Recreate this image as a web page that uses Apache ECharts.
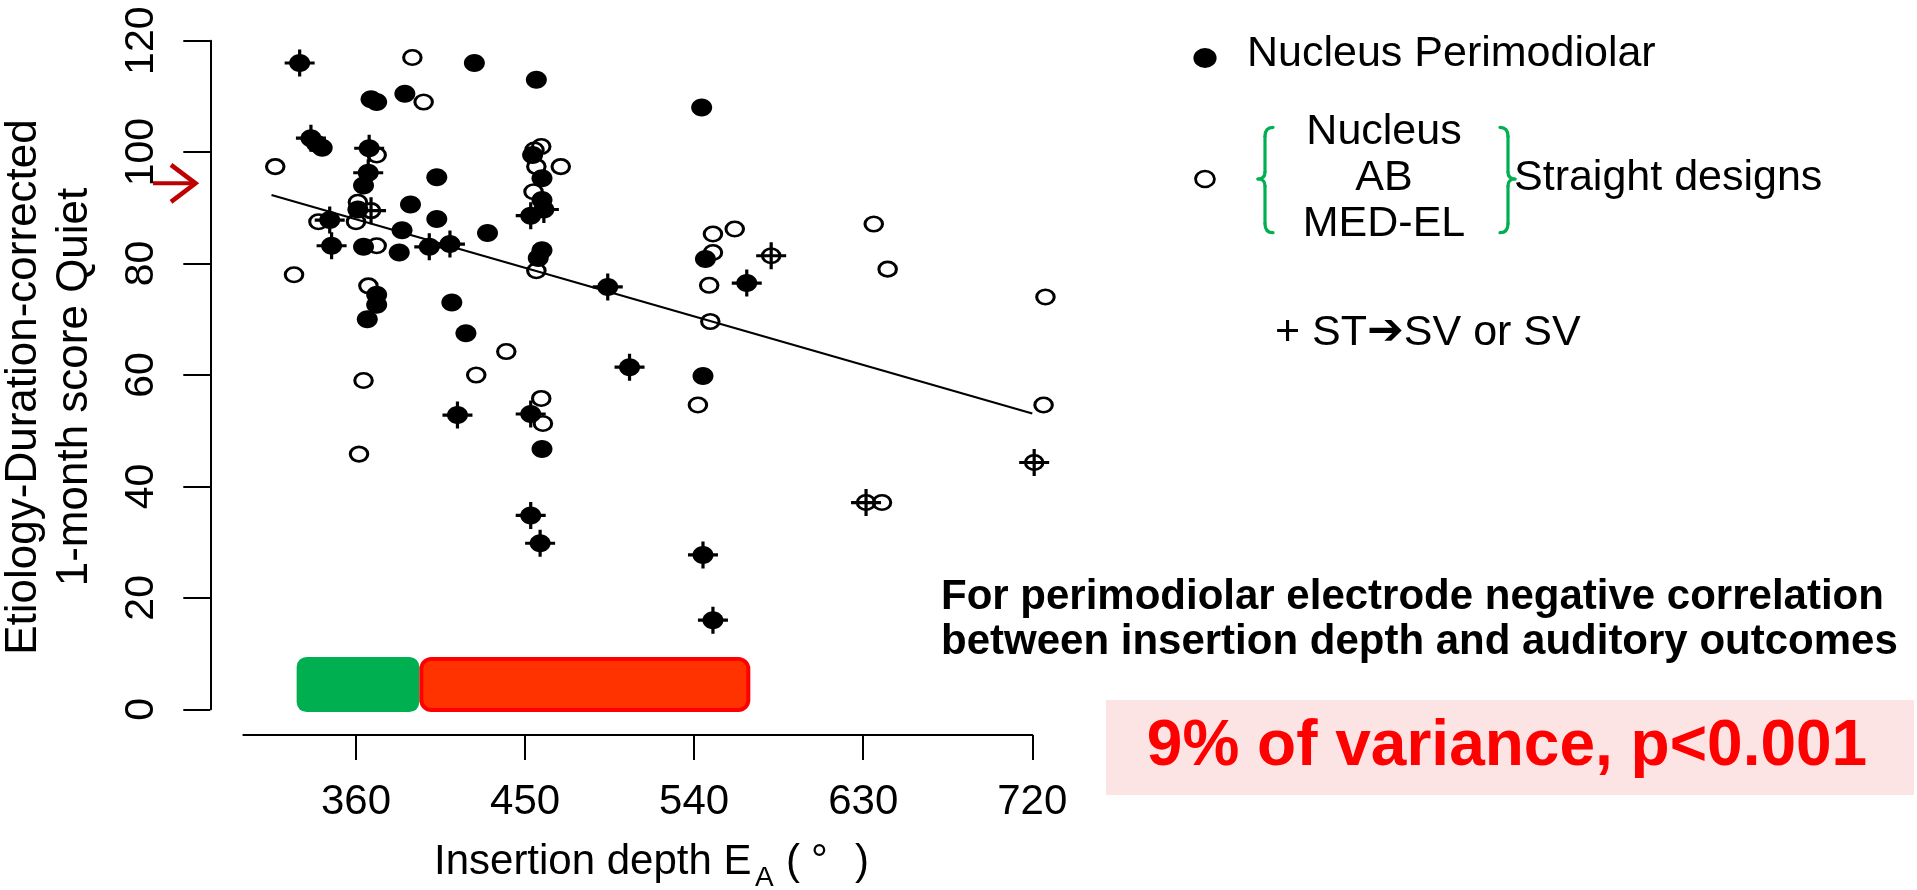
<!DOCTYPE html>
<html>
<head>
<meta charset="utf-8">
<script src="https://cdn.jsdelivr.net/npm/echarts@6/dist/echarts.min.js"></script>
<style>
  html, body { margin: 0; padding: 0; background: #ffffff; }
  #chart { width: 1917px; height: 890px; }
</style>
</head>
<body>
<div id="chart"></div>
<script>
// Axis ticks
const xTicks = [360, 450, 540, 630, 720];
const yTicks = [0, 20, 40, 60, 80, 100, 120];

// [insertion depth (deg), corrected 1-month score]
// Nucleus Perimodiolar, scala tympani
const perimodiolar = [
  [423, 116], [456, 113], [368, 109.5], [371, 109], [386, 110.5],
  [339, 101.5], [342, 100.8], [403, 95.5], [364, 94], [361, 89.7],
  [389, 90.6], [403, 88], [384.5, 86], [383, 82], [430, 85.5],
  [364, 83], [371, 74.4], [371, 72.6], [366, 70], [411, 73],
  [418.5, 67.5], [454, 99.5], [459, 95.3], [459, 91.4], [459, 82.4],
  [457, 81], [459, 46.7], [544, 108], [546, 80.8], [544.7, 59.8]
];
// Nucleus Perimodiolar, ST->SV or SV
const perimodiolarSV = [
  [330, 116], [336, 102.5], [367, 100.7], [366.5, 96.3], [346, 87.8],
  [399, 83], [410, 83.5], [347, 83.2], [494, 75.8], [505.6, 61.4],
  [414, 52.8], [453, 53], [453, 34.8], [458, 29.8], [453, 88.6],
  [460, 89.7], [568, 76.5], [544.7, 27.7], [550, 16]
];
// Straight designs (Nucleus, AB, MED-EL), scala tympani
const straight = [
  [390, 117], [396, 109], [371, 99.5], [317, 97.4], [361, 91],
  [360, 87.5], [340, 87.5], [371, 83.2], [327, 78], [366.6, 76],
  [440, 64.2], [424, 60], [364, 59], [361.6, 45.8], [458.6, 101],
  [455, 100.4], [456, 97.4], [469, 97.4], [454.5, 92.9], [456, 78.7],
  [458.6, 55.8], [459.5, 51.3], [550, 85.3], [561.6, 86.2], [550, 82],
  [635.6, 87.1], [643, 79], [548, 76.1], [548.6, 69.6], [542, 54.6],
  [727, 74], [726, 54.6], [640, 37.1]
];
// Straight designs, ST->SV or SV
const straightSV = [
  [368, 89.5], [581, 81.4], [721, 44.3], [631.5, 37.1]
];

// Regression line end points
const fitLine = [[315, 92.3], [720, 53.1]];
// Score marked by the arrow on the y axis
const referenceScore = 94.4;
// Depth ranges shown as bands along the bottom, and their score extent
const depthZones = [[328.4, 393.7], [393.7, 569.9]];
const zoneBand = [-0.5, 9.4];

const FONT = "'Liberation Sans', Arial, Helvetica, sans-serif";
const zoneStyles = [
  { fill: '#00B050', stroke: null, lineWidth: 0 },
  { fill: '#FF3300', stroke: '#FF0000', lineWidth: 4 }
];
const ellipsePath = 'path://M10,0C15.52,0 20,4.48 20,10C20,15.52 15.52,20 10,20C4.48,20 0,15.52 0,10C0,4.48 4.48,0 10,0Z';
const plusPath = 'path://M0,11.9h30v3.2h-30zM13.4,0h3.2v27h-3.2z';

const chart = echarts.init(document.getElementById('chart'), null, { renderer: 'canvas' });

const filledStyle = { color: '#000000', opacity: 1 };
const openStyle = { color: 'rgba(0,0,0,0)', borderColor: '#000000', borderWidth: 2.8, opacity: 1 };

chart.setOption({
  animation: false,
  backgroundColor: '#ffffff',
  grid: { left: 243.3, right: 884.7, top: 40.7, bottom: 180.7, containLabel: false, outerBoundsMode: 'none' },
  xAxis: {
    type: 'value', min: 300, max: 720, position: 'bottom', offset: 25.7,
    axisLine: { show: true, onZero: false, lineStyle: { color: '#000', width: 2 } },
    axisTick: { show: true, customValues: xTicks, length: 25, lineStyle: { color: '#000', width: 2 } },
    axisLabel: { customValues: xTicks, margin: 46, fontSize: 42, color: '#000', fontFamily: FONT },
    splitLine: { show: false }
  },
  yAxis: {
    type: 'value', min: yTicks[0], max: yTicks[yTicks.length - 1], interval: 20,
    position: 'left', offset: 33,
    axisLine: { show: true, onZero: false, lineStyle: { color: '#000', width: 2 } },
    axisTick: { show: true, length: 27, lineStyle: { color: '#000', width: 2 } },
    axisLabel: { rotate: 90, margin: 48, fontSize: 41, color: '#000', fontFamily: FONT },
    splitLine: { show: false }
  },
  series: [
    {
      type: 'custom', silent: true, clip: false, z: 1,
      data: depthZones.map((z, i) => [z[0], z[1], i]),
      renderItem: function (params, api) {
        const p0 = api.coord([api.value(0), zoneBand[1]]);
        const p1 = api.coord([api.value(1), zoneBand[0]]);
        const st = zoneStyles[api.value(2)];
        const inset = st.lineWidth / 2;
        return {
          type: 'rect',
          shape: { x: p0[0] + inset, y: p0[1] + inset, width: p1[0] - p0[0] - 2 * inset, height: p1[1] - p0[1] - 2 * inset, r: 10 },
          style: { fill: st.fill, stroke: st.stroke, lineWidth: st.lineWidth }
        };
      }
    },
    {
      type: 'line', data: fitLine, symbol: 'none', silent: true, z: 2,
      lineStyle: { color: '#000', width: 2.2 }
    },
    {
      type: 'scatter', data: perimodiolar, symbol: ellipsePath, symbolSize: [21, 18],
      itemStyle: filledStyle, silent: true, clip: false, z: 3
    },
    {
      type: 'scatter', data: perimodiolarSV, symbol: ellipsePath, symbolSize: [21, 18],
      itemStyle: filledStyle, silent: true, clip: false, z: 3
    },
    {
      type: 'scatter', data: straight, symbol: ellipsePath, symbolSize: [17.5, 14.5],
      itemStyle: openStyle, silent: true, clip: false, z: 4
    },
    {
      type: 'scatter', data: straightSV, symbol: ellipsePath, symbolSize: [17.5, 14.5],
      itemStyle: openStyle, silent: true, clip: false, z: 4
    },
    {
      // "+" marks for ST->SV or SV insertions
      type: 'scatter', data: perimodiolarSV.concat(straightSV), symbol: plusPath, symbolSize: [30, 27],
      itemStyle: { color: '#000', opacity: 1 }, silent: true, clip: false, z: 5
    }
  ]
});

const yRef = chart.convertToPixel({ yAxisIndex: 0 }, referenceScore);

function txt(x, y, text, font, opts) {
  opts = opts || {};
  const align = opts.align || 'left';
  const el = {
    type: 'text', x: x, y: y, rotation: opts.rotation || 0, silent: true, z: 10,
    style: {
      text: text, font: font, fill: opts.fill || '#000',
      align: align, textAlign: align,
      verticalAlign: 'middle', textVerticalAlign: 'middle'
    }
  };
  if (opts.rich) el.style.rich = opts.rich;
  return el;
}

const braceColor = '#00B050';
function brace(xLine, xEnd, xTip, yTop, yMid, yBot) {
  const s = { stroke: braceColor, lineWidth: 3.2, fill: null, lineCap: 'round' };
  return [
    { type: 'bezierCurve', shape: { x1: xEnd, y1: yTop, cpx1: xLine, cpy1: yTop, x2: xLine, y2: yTop + 9 }, style: s, silent: true },
    { type: 'line', shape: { x1: xLine, y1: yTop + 9, x2: xLine, y2: yMid - 7 }, style: s, silent: true },
    { type: 'bezierCurve', shape: { x1: xLine, y1: yMid - 7, cpx1: xLine, cpy1: yMid, x2: xTip, y2: yMid }, style: s, silent: true },
    { type: 'bezierCurve', shape: { x1: xTip, y1: yMid, cpx1: xLine, cpy1: yMid, x2: xLine, y2: yMid + 7 }, style: s, silent: true },
    { type: 'line', shape: { x1: xLine, y1: yMid + 7, x2: xLine, y2: yBot - 9 }, style: s, silent: true },
    { type: 'bezierCurve', shape: { x1: xLine, y1: yBot - 9, cpx1: xLine, cpy1: yBot, x2: xEnd, y2: yBot }, style: s, silent: true }
  ];
}

const F42 = '42px ' + FONT;
const F43 = '43px ' + FONT;
const graphics = [
  // arrow at the reference score
  { type: 'line', shape: { x1: 153, y1: yRef, x2: 193, y2: yRef }, style: { stroke: '#C00000', lineWidth: 4 }, silent: true },
  { type: 'polyline', shape: { points: [[171, yRef - 18.5], [195.5, yRef], [171, yRef + 18.5]] }, style: { stroke: '#C00000', lineWidth: 4.5, fill: null }, silent: true },

  // y axis title
  txt(24, 387, 'Etiology-Duration-corrected', '44px ' + FONT, { align: 'center', rotation: Math.PI / 2 }),
  txt(75, 387, '1-month score Quiet', '44px ' + FONT, { align: 'center', rotation: Math.PI / 2 }),

  // x axis title
  txt(434, 862.5, 'Insertion depth E', F42),
  txt(755, 878.6, 'A', '28px ' + FONT),
  txt(786, 862.5, '(', F42),
  txt(811, 862.5, '°', F42),
  txt(855, 862.5, ')', F42),

  // legend
  { type: 'circle', x: 1205, y: 58, scaleX: 1.16, shape: { cx: 0, cy: 0, r: 10 }, style: { fill: '#000' }, silent: true },
  txt(1247, 54.5, 'Nucleus Perimodiolar', F43),
  { type: 'circle', x: 1205, y: 179, scaleX: 1.18, shape: { cx: 0, cy: 0, r: 8 }, style: { fill: null, stroke: '#000', lineWidth: 2.4 }, silent: true },
  txt(1384, 132, 'Nucleus', F43, { align: 'center' }),
  txt(1384, 178.5, 'AB', F43, { align: 'center' }),
  txt(1384, 224.5, 'MED-EL', F43, { align: 'center' }),
  txt(1514, 178, 'Straight designs', F43),
  txt(1275, 333, '+ ST{arr|\u2794}SV or SV', F43, {
    rich: { arr: { fontFamily: "'DejaVu Sans'", fontSize: 44, fontWeight: 'bold', fill: '#000', padding: [0, 0, 0, 0] } }
  }),

  // annotation
  txt(941, 597, 'For perimodiolar electrode negative correlation', 'bold 42px ' + FONT),
  txt(941, 642, 'between insertion depth and auditory outcomes', 'bold 42px ' + FONT),
  { type: 'rect', shape: { x: 1106, y: 700, width: 808, height: 95 }, style: { fill: '#FDE4E4' }, silent: true, z: 9 },
  txt(1507, 747, '9% of variance, p<0.001', 'bold 64px ' + FONT, { align: 'center', fill: '#FF0000' })
].concat(
  brace(1265, 1273, 1258, 127.3, 179, 232.7),
  brace(1508, 1500, 1515, 127.3, 179, 232.7)
);

chart.setOption({ graphic: { elements: graphics } });
</script>
</body>
</html>
